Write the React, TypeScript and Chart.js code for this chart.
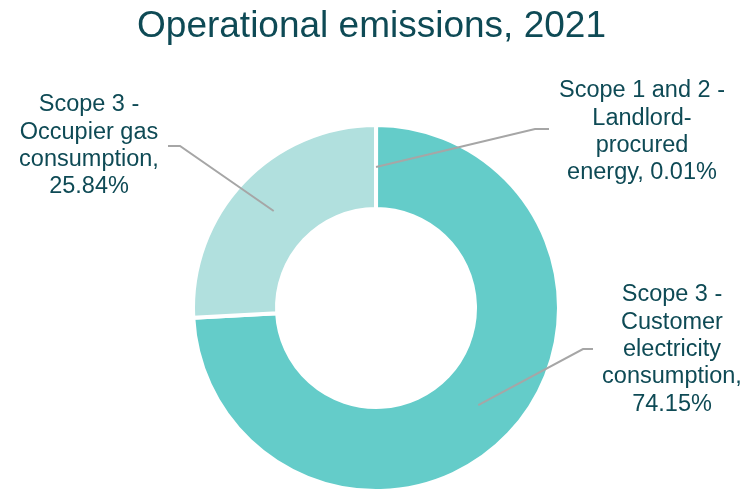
import React, { useEffect, useRef } from "react";
import { Chart, registerables } from "chart.js";

Chart.register(...registerables);

const titleText = "Operational emissions, 2021";
const categories = [
  "Scope 1 and 2 - Landlord-procured energy",
  "Scope 3 - Customer electricity consumption",
  "Scope 3 - Occupier gas consumption",
];
const shares = [0.01, 74.15, 25.84];
const labelLines = [
  ["Scope 1 and 2 -", "Landlord-", "procured", "energy, 0.01%"],
  ["Scope 3 -", "Customer", "electricity", "consumption,", "74.15%"],
  ["Scope 3 -", "Occupier gas", "consumption,", "25.84%"],
];
const sliceColors = ["#0E5C66", "#64CCC9", "#B1E0DE"];

const TEXT = "#0E4A55";
const FONT = "'Liberation Sans', Arial, sans-serif";

// label layout: text center x, first-line middle y, elbow, line-end
const labelLayout = [
  { x: 642, y: 91, elbow: [535, 129], end: [549, 129] },
  { x: 672, y: 295, elbow: [583, 349], end: [593, 349] },
  { x: 89, y: 105, elbow: [180, 146], end: [168, 146] },
];

const labelsPlugin = {
  id: "calloutLabels",
  afterDraw(chart: any) {
    const ctx = chart.ctx;
    const meta = chart.getDatasetMeta(0);
    ctx.save();
    // title
    ctx.fillStyle = TEXT;
    ctx.font = `37px ${FONT}`;
    ctx.textAlign = "center";
    ctx.textBaseline = "alphabetic";
    ctx.fillText(titleText, 371.5, 37);

    meta.data.forEach((arc: any, i: number) => {
      const lay = labelLayout[i];
      const p = arc.tooltipPosition();
      ctx.strokeStyle = "#A6A6A6";
      ctx.lineWidth = 2;
      ctx.beginPath();
      ctx.moveTo(p.x, p.y);
      ctx.lineTo(lay.elbow[0], lay.elbow[1]);
      ctx.lineTo(lay.end[0], lay.end[1]);
      ctx.stroke();

      ctx.fillStyle = TEXT;
      ctx.font = `23.5px ${FONT}`;
      ctx.textAlign = "center";
      ctx.textBaseline = "middle";
      labelLines[i].forEach((line, j) => {
        ctx.fillText(line, lay.x, lay.y + j * 27.3);
      });
    });
    ctx.restore();
  },
};

export default function App() {
  const ref = useRef<HTMLCanvasElement>(null);
  useEffect(() => {
    if (!ref.current) return;
    const chart = new Chart(ref.current, {
      type: "doughnut",
      data: {
        labels: categories,
        datasets: [
          {
            data: shares,
            backgroundColor: sliceColors,
            borderColor: "#FFFFFF",
            borderWidth: 4,
          },
        ],
      },
      options: {
        responsive: false,
        animation: false,
        radius: 183,
        cutout: "54.1%",
        layout: { padding: { left: 193, right: 189, top: 125, bottom: 0 } },
        plugins: {
          legend: { display: false },
          title: { display: false },
          tooltip: { enabled: false },
        },
      } as any,
      plugins: [labelsPlugin],
    });
    return () => chart.destroy();
  }, []);
  return (
    <div style={{ position: "fixed", left: 0, top: 0, width: 748, height: 491, background: "#fff" }}>
      <canvas ref={ref} width={748} height={491} style={{ display: "block" }} />
    </div>
  );
}
